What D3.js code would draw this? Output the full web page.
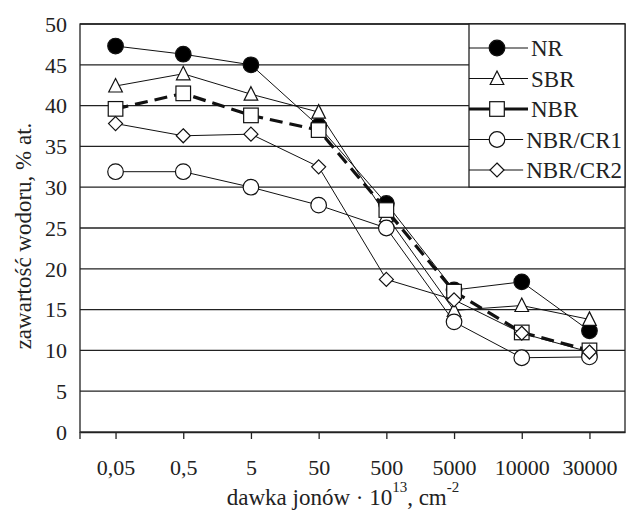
<!DOCTYPE html>
<html>
<head>
<meta charset="utf-8">
<script src="https://cdn.jsdelivr.net/npm/d3@7/dist/d3.min.js"></script>
<style>
  html, body { margin: 0; padding: 0; background: #fff; }
  svg, svg text { font-family: "Liberation Serif", Tinos, "Times New Roman", Times, "Noto Serif", "DejaVu Serif", serif; }
</style>
</head>
<body>
<svg id="chart" width="627" height="513"></svg>
<script>
// Hydrogen content vs ion dose for five rubbers
const categories = ["0,05", "0,5", "5", "50", "500", "5000", "10000", "30000"];
const nr     = [47.3, 46.3, 45.0, 37.5, 28.0, 17.4, 18.4, 12.4];
const sbr    = [42.4, 43.9, 41.4, 39.2, 26.5, 14.9, 15.5, 13.8];
const nbr    = [39.6, 41.5, 38.8, 37.0, 27.2, 17.2, 12.2, 10.0];
const nbrCr1 = [31.9, 31.9, 30.0, 27.8, 25.0, 13.5, 9.1, 9.2];
const nbrCr2 = [37.8, 36.3, 36.5, 32.5, 18.7, 16.2, 12.1, 9.8];
const yTicks = [0, 5, 10, 15, 20, 25, 30, 35, 40, 45, 50];
const seriesNames = ["NR", "SBR", "NBR", "NBR/CR1", "NBR/CR2"];

const series = [
  { name: seriesNames[0], values: nr,     marker: "circle",   fill: "#000", width: 1,   dash: null },
  { name: seriesNames[1], values: sbr,    marker: "triangle", fill: "#fff", width: 1,   dash: null },
  { name: seriesNames[2], values: nbr,    marker: "square",   fill: "#fff", width: 3.2, dash: "13,7" },
  { name: seriesNames[3], values: nbrCr1, marker: "circle",   fill: "#fff", width: 1,   dash: null },
  { name: seriesNames[4], values: nbrCr2, marker: "diamond",  fill: "#fff", width: 1,   dash: null }
];

const svg = d3.select("#chart");
const plotLeft = 80, plotRight = 625, plotTop = 24, plotBottom = 432;

const x = d3.scalePoint().domain(categories).range([plotLeft, plotRight]).padding(0.525);
const y = d3.scaleLinear().domain([0, 50]).range([plotBottom, plotTop]);

// gridlines
svg.append("g").selectAll("line")
  .data(yTicks.filter(t => t > 0))
  .join("line")
  .attr("x1", plotLeft).attr("x2", plotRight)
  .attr("y1", d => y(d)).attr("y2", d => y(d))
  .attr("stroke", "#222").attr("stroke-width", 1.3);

// plot frame
svg.append("rect")
  .attr("x", plotLeft).attr("y", plotTop)
  .attr("width", plotRight - plotLeft).attr("height", plotBottom - plotTop)
  .attr("fill", "none").attr("stroke", "#222").attr("stroke-width", 1.3);

// x axis
const xAxis = svg.append("g")
  .attr("transform", `translate(0,${plotBottom})`)
  .call(d3.axisBottom(x).tickSize(7).tickSizeOuter(0).tickPadding(20));
xAxis.attr("font-family", null);
xAxis.select(".domain").attr("stroke", "#222").attr("stroke-width", 1.3);
xAxis.selectAll(".tick line").attr("stroke", "#222").attr("stroke-width", 1.3);
xAxis.selectAll(".tick text").attr("font-size", 22).attr("fill", "#222");
xAxis.append("line")
  .attr("x1", plotLeft).attr("x2", plotLeft).attr("y1", 0).attr("y2", 7)
  .attr("stroke", "#222").attr("stroke-width", 1.3);

// y tick labels
svg.append("g").selectAll("text")
  .data(yTicks)
  .join("text")
  .attr("x", 67).attr("y", d => y(d))
  .attr("dy", "0.35em")
  .attr("text-anchor", "end")
  .attr("font-size", 22).attr("fill", "#222")
  .text(d => d);

// axis titles
svg.append("text")
  .attr("transform", "translate(31,236) rotate(-90)")
  .attr("text-anchor", "middle")
  .attr("font-size", 23).attr("fill", "#222")
  .text("zawartość wodoru, % at.");

const xt = svg.append("text")
  .attr("x", 343).attr("y", 505)
  .attr("text-anchor", "middle")
  .attr("font-size", 23).attr("fill", "#222");
xt.append("tspan").text("dawka jonów · 10");
xt.append("tspan").attr("dy", -13).attr("font-size", 15).text("13");
xt.append("tspan").attr("dy", 13).text(", cm");
xt.append("tspan").attr("dy", -13).attr("font-size", 15).text("-2");

// marker shapes
function drawMarker(g, type, fill) {
  if (type === "circle") {
    g.append("circle").attr("r", 7.8).attr("fill", fill).attr("stroke", "#111").attr("stroke-width", 1.2);
  } else if (type === "triangle") {
    g.append("path").attr("d", "M0,-7.5L6.8,6L-6.8,6Z").attr("fill", fill).attr("stroke", "#111").attr("stroke-width", 1.2);
  } else if (type === "square") {
    g.append("rect").attr("x", -7.3).attr("y", -7.3).attr("width", 14.6).attr("height", 14.6)
      .attr("fill", fill).attr("stroke", "#111").attr("stroke-width", 1.2);
  } else if (type === "diamond") {
    g.append("path").attr("d", "M0,-7L7,0L0,7L-7,0Z").attr("fill", fill).attr("stroke", "#111").attr("stroke-width", 1.2);
  }
}

const line = d3.line().x((d, i) => x(categories[i])).y(d => y(d));

series.forEach(s => {
  const g = svg.append("g");
  g.append("path")
    .attr("d", line(s.values))
    .attr("fill", "none")
    .attr("stroke", "#111")
    .attr("stroke-width", s.width)
    .attr("stroke-dasharray", s.dash);
  s.values.forEach((v, i) => {
    const m = g.append("g").attr("transform", `translate(${x(categories[i])},${y(v)})`);
    drawMarker(m, s.marker, s.fill);
  });
});

// legend
const legX = 469, legW = plotRight - legX, legH = 163;
svg.append("rect")
  .attr("x", legX).attr("y", plotTop).attr("width", legW).attr("height", legH)
  .attr("fill", "#fff").attr("stroke", "#222").attr("stroke-width", 1.3);

series.forEach((s, i) => {
  const cy = 48 + i * 30.5;
  const g = svg.append("g");
  const t = g.append("text")
    .attr("y", cy).attr("dy", "0.35em")
    .attr("font-size", 23).attr("fill", "#222")
    .text(s.name);
  const tw = t.node().getComputedTextLength();
  const tx = Math.min(531, 622 - tw);
  t.attr("x", tx);
  g.append("line")
    .attr("x1", legX).attr("x2", tx - 3)
    .attr("y1", cy).attr("y2", cy)
    .attr("stroke", "#111").attr("stroke-width", s.width);
  const m = g.append("g").attr("transform", `translate(497,${cy})`);
  drawMarker(m, s.marker, s.fill);
});
</script>
</body>
</html>
